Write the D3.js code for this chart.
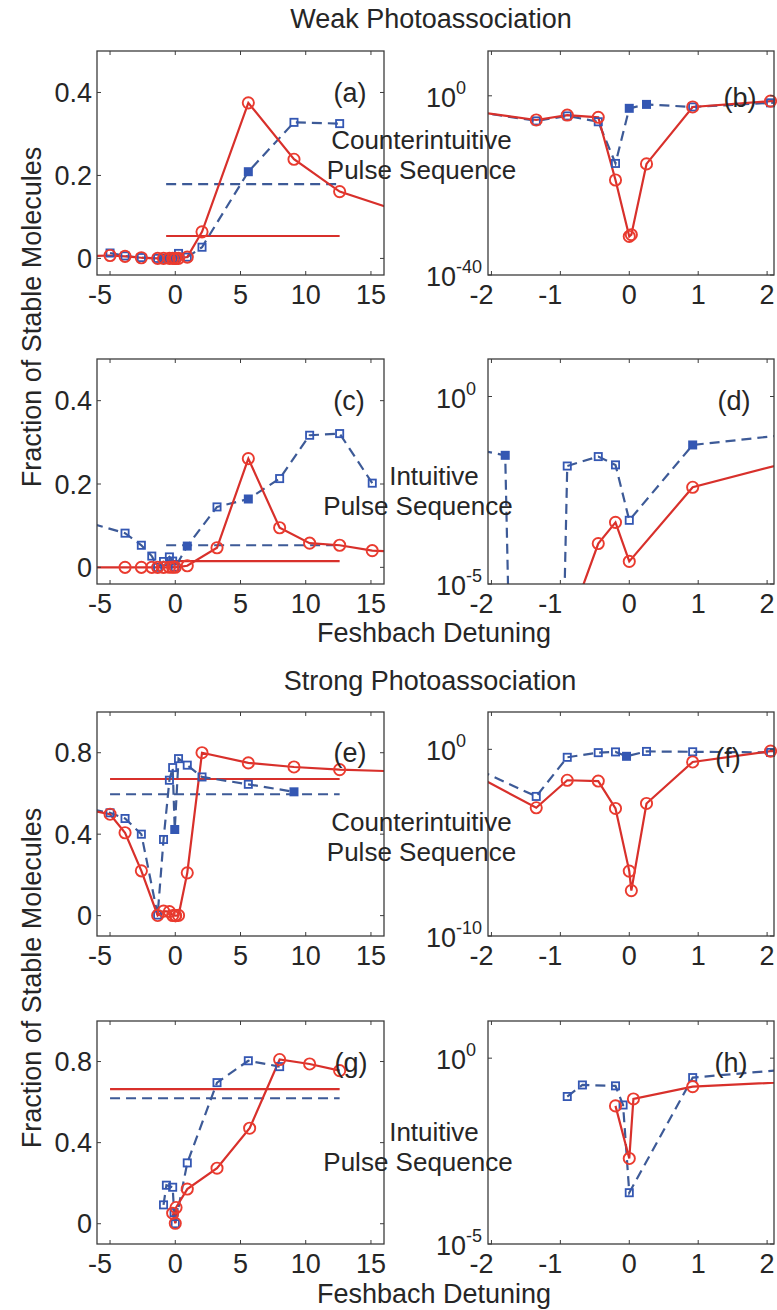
<!DOCTYPE html>
<html>
<head>
<meta charset="utf-8">
<script src="https://cdn.jsdelivr.net/npm/d3@7"></script>
<style>
  body { margin: 0; background: #fff; }
  text { font-family: "Liberation Sans", Arial, Helvetica, sans-serif; fill: #262626; }
</style>
</head>
<body>
<svg id="fig" width="777" height="1310"></svg>
<script>
// ---------------------------------------------------------------
// Fraction of stable molecules vs. Feshbach detuning.
// Red circles: numerical result; blue squares: second model (dashed).
// Flat lines: detuning-averaged fractions.
// ---------------------------------------------------------------

// Weak photoassociation, counterintuitive pulse sequence  -> (a), (b)
const weakCI_redX  = [-6.3, -5.0, -3.85, -2.6, -1.35, -0.9, -0.45, -0.2, 0, 0.03, 0.25, 0.92, 2.05, 5.6, 9.1, 12.6, 16.1];
const weakCI_red   = [0.006, 0.007, 0.005, 1.6e-3, 4e-6, 5e-5, 1.6e-5, 1.6e-19, 4e-32, 1e-31, 6.3e-16, 3.2e-3, 0.064, 0.375, 0.239, 0.161, 0.125];
const weakCI_blueX = [-5.0, -3.85, -2.6, -1.35, -0.9, -0.45, -0.2, 0, 0.25, 0.92, 2.05, 5.6, 9.1, 12.6];
const weakCI_blue  = [0.013, 0.006, 0.002, 2.5e-6, 3.2e-5, 1.6e-6, 8e-16, 1.6e-3, 0.012, 3.2e-3, 0.027, 0.209, 0.328, 0.325];
const weakCI_avg   = [0.054, 0.179];   // [red, blue]

// Weak photoassociation, intuitive pulse sequence  -> (c), (d)
const weakI_redX  = [-6.3, -3.85, -2.6, -1.8, -1.35, -0.9, -0.45, -0.2, 0, 0.92, 3.2, 5.6, 8.0, 10.3, 12.6, 15.1, 17.5];
const weakI_red   = [1e-9, 1e-9, 1e-9, 1e-9, 1e-9, 6.3e-7, 1.2e-4, 4.4e-4, 4e-5, 3.8e-3, 0.047, 0.261, 0.095, 0.058, 0.053, 0.040, 0.037];
const weakI_blueX = [-6.3, -3.85, -2.6, -1.8, -1.35, -0.9, -0.45, -0.2, 0, 0.92, 3.2, 5.6, 8.0, 10.3, 12.6, 15.1];
const weakI_blue  = [0.104, 0.082, 0.053, 0.027, 1e-40, 0.014, 0.025, 0.015, 5e-4, 0.051, 0.145, 0.164, 0.213, 0.317, 0.321, 0.202];
const weakI_avg   = [0.015, 0.053];

// Strong photoassociation, counterintuitive pulse sequence  -> (e), (f)
const strongCI_redX  = [-6.3, -5.0, -3.85, -2.6, -1.35, -0.9, -0.45, -0.2, 0, 0.03, 0.25, 0.92, 2.05, 5.6, 9.1, 12.6, 16.1];
const strongCI_red   = [0.515, 0.498, 0.407, 0.22, 7.4e-4, 0.022, 0.020, 6.8e-4, 3e-7, 2.7e-8, 1.26e-3, 0.21, 0.80, 0.75, 0.73, 0.717, 0.71];
const strongCI_blueX = [-6.3, -5.0, -3.85, -2.6, -1.35, -0.9, -0.45, -0.2, -0.04, 0.25, 0.92, 2.05, 5.6, 9.1];
const strongCI_blue  = [0.52, 0.505, 0.477, 0.40, 3e-3, 0.374, 0.665, 0.727, 0.423, 0.771, 0.739, 0.681, 0.645, 0.608];
const strongCI_avg   = [0.671, 0.596];

// Strong photoassociation, intuitive pulse sequence  -> (g), (h)
const strongI_redX  = [-0.2, 0, 0.06, 0.92, 3.2, 5.7, 8.0, 10.3, 12.6];
const strongI_red   = [0.052, 0.002, 0.08, 0.171, 0.274, 0.471, 0.81, 0.788, 0.755];
const strongI_blueX = [-0.9, -0.68, -0.2, -0.09, 0, 0.92, 3.2, 5.6, 8.0];
const strongI_blue  = [0.093, 0.19, 0.18, 0.055, 2.4e-4, 0.30, 0.696, 0.804, 0.775];
const strongI_avg   = [0.664, 0.619];

// Axis ranges and tick values
const wideX      = [-6, 16];
const wideTicks  = [-5, 0, 5, 10, 15];
const zoomX      = [-2.05, 2.1];
const zoomTicks  = [-2, -1, 0, 1, 2];
const weakLinY   = [-0.04, 0.5];
const weakLinTicks = [0, 0.2, 0.4];
const strongLinY = [-0.1, 1.0];
const strongLinTicks = [0, 0.4, 0.8];
const logY_b = [1e-40, 1e10], logTicks_b = [-40, 0];
const logY_d = [1e-5, 1e1],   logTicks_d = [-5, 0];
const logY_f = [1e-10, 1e2],  logTicks_f = [-10, 0];
const logY_h = [1e-5, 1e1],   logTicks_h = [-5, 0];
const avgSpanWeak   = [-0.7, 12.6];
const avgSpanStrong = [-5.0, 12.6];

// ---------------------------------------------------------------
// Layout and styling
const colX = [[97, 384], [488, 774]];
const rowY = [[51, 275], [359, 584], [712, 936], [1021, 1244]];
const FS = 27;
const CAP_FS = 26;
const RED_LINE = "#d8302b", RED_MARK = "#ea3b2f";
const BLUE_LINE = "#3d5a97", BLUE_MARK = "#3457b3";
const FRAME = "#3c3c3c";
// blue markers drawn solid (indices into the blue series), per panel
const solidSquares = { a: [11], b: [7, 8], c: [9, 11], d: [3, 9], e: [8, 13], f: [8], g: [], h: [] };

const zip = (xs, ys) => xs.map((x, i) => [x, ys[i], i]);

const sets = {
  weakCI:   { red: zip(weakCI_redX, weakCI_red),     blue: zip(weakCI_blueX, weakCI_blue),     avg: weakCI_avg,   span: avgSpanWeak },
  weakI:    { red: zip(weakI_redX, weakI_red),       blue: zip(weakI_blueX, weakI_blue),       avg: weakI_avg,    span: avgSpanWeak },
  strongCI: { red: zip(strongCI_redX, strongCI_red), blue: zip(strongCI_blueX, strongCI_blue), avg: strongCI_avg, span: avgSpanStrong },
  strongI:  { red: zip(strongI_redX, strongI_red),   blue: zip(strongI_blueX, strongI_blue),   avg: strongI_avg,  span: avgSpanStrong }
};

const panels = [
  { key: "a", set: "weakCI",   col: 0, row: 0, log: false, yDom: weakLinY,   yTicks: weakLinTicks,   lab: [-34, 51] },
  { key: "b", set: "weakCI",   col: 1, row: 0, log: true,  yDom: logY_b,     yTicks: logTicks_b,     lab: [-34, 56] },
  { key: "c", set: "weakI",    col: 0, row: 1, log: false, yDom: weakLinY,   yTicks: weakLinTicks,   lab: [-35, 51] },
  { key: "d", set: "weakI",    col: 1, row: 1, log: true,  yDom: logY_d,     yTicks: logTicks_d,     lab: [-40, 51] },
  { key: "e", set: "strongCI", col: 0, row: 2, log: false, yDom: strongLinY, yTicks: strongLinTicks, lab: [-34, 50] },
  { key: "f", set: "strongCI", col: 1, row: 2, log: true,  yDom: logY_f,     yTicks: logTicks_f,     lab: [-46, 55] },
  { key: "g", set: "strongI",  col: 0, row: 3, log: false, yDom: strongLinY, yTicks: strongLinTicks, lab: [-33, 51] },
  { key: "h", set: "strongI",  col: 1, row: 3, log: true,  yDom: logY_h,     yTicks: logTicks_h,     lab: [-43, 51] }
];

const svg = d3.select("#fig");
const defs = svg.append("defs");

function drawPanel(p) {
  const [L, R] = colX[p.col];
  const [T, B] = rowY[p.row];
  const wide = p.col === 0;
  const x = d3.scaleLinear().domain(wide ? wideX : zoomX).range([L, R]);
  const y = (p.log ? d3.scaleLog() : d3.scaleLinear()).domain(p.yDom).range([B, T]);
  const data = sets[p.set];
  const solid = solidSquares[p.key];
  const g = svg.append("g").attr("class", "panel-" + p.key);

  defs.append("clipPath").attr("id", "clip-" + p.key)
    .append("rect").attr("x", L).attr("y", T).attr("width", R - L).attr("height", B - T);
  const plot = g.append("g").attr("clip-path", `url(#clip-${p.key})`);

  const line = d3.line().x(d => x(d[0])).y(d => y(d[1]));
  const inside = d => {
    const xd = x.domain(), yd = y.domain();
    return d[0] >= xd[0] && d[0] <= xd[1] && d[1] >= yd[0] && d[1] <= yd[1];
  };

  // detuning-averaged levels (linear panels only)
  if (!p.log) {
    plot.append("path")
      .attr("d", line([[data.span[0], data.avg[1]], [data.span[1], data.avg[1]]]))
      .attr("fill", "none").attr("stroke", BLUE_LINE).attr("stroke-width", 2.2)
      .attr("stroke-dasharray", "10,6");
    plot.append("path")
      .attr("d", line([[data.span[0], data.avg[0]], [data.span[1], data.avg[0]]]))
      .attr("fill", "none").attr("stroke", RED_LINE).attr("stroke-width", 2.2);
  }

  // blue dashed series with square markers
  plot.append("path").attr("d", line(data.blue))
    .attr("fill", "none").attr("stroke", BLUE_LINE).attr("stroke-width", 2.2)
    .attr("stroke-dasharray", "10,6");
  g.append("g").selectAll("rect").data(data.blue.filter(inside)).join("rect")
    .attr("x", d => x(d[0]) - 3.6).attr("y", d => y(d[1]) - 3.6)
    .attr("width", 7.2).attr("height", 7.2)
    .attr("fill", d => solid.includes(d[2]) ? BLUE_MARK : "none")
    .attr("stroke", BLUE_MARK).attr("stroke-width", 1.8);

  // red solid series with circle markers
  plot.append("path").attr("d", line(data.red))
    .attr("fill", "none").attr("stroke", RED_LINE).attr("stroke-width", 2.2);
  g.append("g").selectAll("circle").data(data.red.filter(inside)).join("circle")
    .attr("cx", d => x(d[0])).attr("cy", d => y(d[1])).attr("r", 5.6)
    .attr("fill", "none").attr("stroke", RED_MARK).attr("stroke-width", 1.9);

  // frame and inward ticks
  g.append("rect").attr("x", L).attr("y", T).attr("width", R - L).attr("height", B - T)
    .attr("fill", "none").attr("stroke", FRAME).attr("stroke-width", 1.3);
  const xt = wide ? wideTicks : zoomTicks;
  const tk = g.append("g").attr("stroke", FRAME).attr("stroke-width", 1);
  xt.forEach(v => {
    tk.append("line").attr("x1", x(v)).attr("x2", x(v)).attr("y1", B).attr("y2", B - 4);
    tk.append("line").attr("x1", x(v)).attr("x2", x(v)).attr("y1", T).attr("y2", T + 4);
  });
  const yv = p.log ? p.yTicks.map(e => Math.pow(10, e)) : p.yTicks;
  yv.forEach(v => {
    tk.append("line").attr("x1", L).attr("x2", L + 4).attr("y1", y(v)).attr("y2", y(v));
    tk.append("line").attr("x1", R).attr("x2", R - 4).attr("y1", y(v)).attr("y2", y(v));
  });

  // x tick labels
  g.append("g").selectAll("text").data(xt).join("text")
    .attr("x", d => x(d)).attr("y", B + 29)
    .attr("dx", d => d < 0 ? -10 : 0)
    .attr("text-anchor", "middle").attr("font-size", FS)
    .text(d => d);

  // y tick labels
  if (!p.log) {
    g.append("g").selectAll("text").data(p.yTicks).join("text")
      .attr("x", L - 5).attr("y", d => y(d) + 9.5)
      .attr("text-anchor", "end").attr("font-size", FS)
      .text(d => d);
  } else {
    const labs = p.yTicks.map(e => {
      const t = g.append("text").attr("y", y(Math.pow(10, e)) + 11).attr("font-size", FS);
      t.append("tspan").text("10");
      t.append("tspan").attr("dy", -13).attr("font-size", 18).text(e);
      return t;
    });
    const w = d3.max(labs, t => t.node().getComputedTextLength());
    labs.forEach(t => t.attr("x", L - 6 - w));
  }

  // panel letter
  g.append("text").attr("x", R + p.lab[0]).attr("y", T + p.lab[1])
    .attr("text-anchor", "middle").attr("font-size", FS)
    .text("(" + p.key + ")");
}

panels.forEach(drawPanel);

// ---------------------------------------------------------------
// Shared annotations
const ann = svg.append("g").attr("font-size", FS);
const headings = [
  ["Weak Photoassociation", 431, 28],
  ["Strong Photoassociation", 430, 690],
  ["Feshbach Detuning", 434, 642],
  ["Feshbach Detuning", 434, 1303]
];
headings.forEach(([s, cx, by]) => {
  ann.append("text").attr("x", cx).attr("y", by).attr("text-anchor", "middle")
    .attr("font-size", FS).text(s);
});

// two-line pulse-sequence captions: [first line, centre x, second line, centre x, first baseline]
const captions = [
  ["Counterintuitive", 421.5, "Pulse Sequence", 421.5, 149],
  ["Intuitive", 434, "Pulse Sequence", 418, 485],
  ["Counterintuitive", 421.5, "Pulse Sequence", 421.5, 831],
  ["Intuitive", 434, "Pulse Sequence", 418, 1141]
];
const CAP_STEP = 30;
captions.forEach(([s1, x1, s2, x2, by]) => {
  ann.append("text").attr("x", x1).attr("y", by).attr("text-anchor", "middle")
    .attr("font-size", CAP_FS).text(s1);
  ann.append("text").attr("x", x2).attr("y", by + CAP_STEP).attr("text-anchor", "middle")
    .attr("font-size", CAP_FS).text(s2);
});

[317, 978].forEach(cy => {
  ann.append("text").attr("transform", `translate(41,${cy}) rotate(-90)`)
    .attr("text-anchor", "middle").attr("font-size", FS)
    .text("Fraction of Stable Molecules");
});
</script>
</body>
</html>
